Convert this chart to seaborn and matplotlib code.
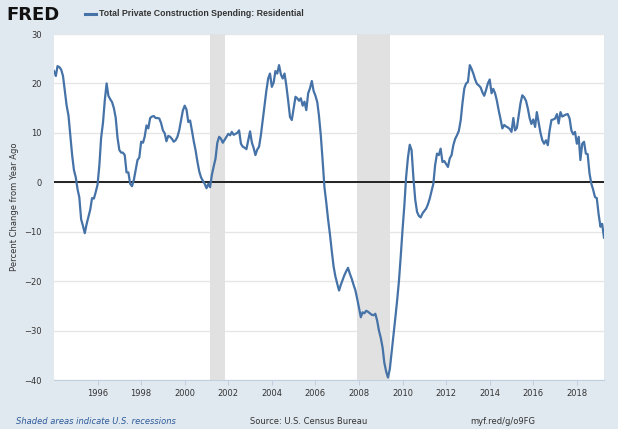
import pandas as pd
import numpy as np
import seaborn as sns
import matplotlib.pyplot as plt
import matplotlib.dates as mdates

# Percent change from year ago, monthly, Jan 1994 - Apr 2019
valores = [
    # 1994
    22.5, 21.5, 23.5, 23.3, 22.8, 21.5, 18.5, 15.5, 13.5, 9.5, 5.5, 2.5,
    # 1995
    1.0, -1.5, -3.0, -7.5, -8.8, -10.3, -8.5, -7.0, -5.5, -3.2, -3.3, -2.0,
    # 1996
    -0.5, 3.5, 9.0, 12.0, 16.5, 20.0, 17.5, 16.8, 16.2, 15.0, 13.0, 9.0,
    # 1997
    6.5, 6.0, 6.0, 5.5, 2.0, 2.0, -0.3, -0.8, 0.5, 2.5, 4.5, 5.0,
    # 1998
    8.2, 8.0, 9.2, 11.5, 10.9, 13.0, 13.3, 13.4, 13.0, 13.0, 12.9, 12.0,
    # 1999
    10.5, 9.9, 8.3, 9.4, 9.2, 8.8, 8.2, 8.5, 9.2, 10.5, 12.5, 14.5,
    # 2000
    15.5, 14.7, 12.2, 12.5, 10.5, 8.3, 6.5, 4.2, 2.2, 1.0, 0.3, -0.3,
    # 2001
    -1.2, -0.3, -1.0, 1.5, 3.2, 4.8, 8.0, 9.2, 8.8, 8.0, 8.6, 9.2,
    # 2002
    9.8, 9.5, 10.2, 9.6, 9.8, 10.0, 10.5, 7.8, 7.2, 7.0, 6.7, 8.5,
    # 2003
    10.3, 8.0, 7.0, 5.5, 6.6, 7.2, 9.5, 12.5, 15.5, 18.5, 21.0, 22.0,
    # 2004
    19.3, 20.2, 22.5, 22.0, 23.7, 21.8, 21.0, 22.0, 19.5, 16.5, 13.2, 12.6,
    # 2005
    15.0, 17.3, 17.0, 16.5, 17.0, 15.5, 16.3, 14.6, 18.0, 19.0, 20.5, 18.5,
    # 2006
    17.5, 16.2, 13.5, 9.5, 4.5, -1.0, -4.0, -7.5, -10.5, -13.8, -17.0, -19.0,
    # 2007
    -20.5, -21.9, -20.8, -19.8, -18.8, -18.0, -17.3, -18.5, -19.5, -20.7, -21.8, -23.5,
    # 2008
    -25.4, -27.3, -26.3, -26.5, -26.0, -26.2, -26.5, -26.8, -26.9, -26.6, -28.0, -30.0,
    # 2009
    -31.5, -33.5, -36.5, -38.3, -39.5, -37.8, -34.5, -31.0, -27.5, -24.0, -20.0, -15.0,
    # 2010
    -9.5, -4.5, 1.0, 5.0, 7.6, 6.5, 1.0, -3.5, -6.0, -6.8, -7.1, -6.3,
    # 2011
    -5.8, -5.3, -4.5, -3.3, -1.8, -0.3, 3.5, 5.8, 5.5, 6.8, 4.1, 4.3,
    # 2012
    3.7, 3.1, 4.8, 5.5, 7.5, 8.8, 9.5, 10.4, 12.5, 16.0, 19.0, 20.0,
    # 2013
    20.3, 23.7, 23.0, 22.0, 20.8, 19.9, 19.6, 19.2, 18.2, 17.5, 18.7, 20.0,
    # 2014
    20.8, 18.0, 18.9, 18.0, 16.5, 14.5, 12.8, 10.9, 11.6, 11.3, 11.1, 10.8,
    # 2015
    10.2, 13.0, 10.5, 11.0, 13.5, 16.0, 17.6, 17.2, 16.5, 15.0, 13.0, 11.8,
    # 2016
    12.7, 11.2, 14.2, 12.0, 10.0, 8.5, 7.8, 8.5, 7.5, 10.5, 12.6, 12.7,
    # 2017
    12.9, 13.8, 11.9, 14.2, 13.3, 13.5, 13.7, 13.8, 12.9, 10.5, 9.7, 10.2,
    # 2018
    7.8, 9.2, 4.5, 7.8, 8.2, 5.8, 5.7, 1.8, -0.3, -1.5, -3.0, -3.2,
    # 2019
    -6.5, -9.0, -8.4, -11.2,
]
fechas = pd.date_range('1994-01-01', periods=len(valores), freq='MS')

recesiones_inicio = ['2001-03-01', '2007-12-01']
recesiones_fin = ['2001-11-01', '2009-06-01']

titulo = 'Total Private Construction Spending: Residential'
etiqueta_y = 'Percent Change from Year Ago'
ticks_y = [-40, -30, -20, -10, 0, 10, 20, 30]
anios_ticks = list(range(1996, 2019, 2))

df = pd.DataFrame({'fecha': fechas, 'valor': valores})

fondo = '#e1e9f0'
azul = '#4572a7'
gris_texto = '#333333'

fig = plt.figure(figsize=(6.18, 4.29), dpi=100, facecolor=fondo)
ax = fig.add_axes([54 / 618, 1 - 380 / 429, 550 / 618, 346 / 429])
ax.set_facecolor('white')

# zonas de recesion
for ini, fin in zip(recesiones_inicio, recesiones_fin):
    ax.axvspan(pd.Timestamp(ini), pd.Timestamp(fin), color='#e1e1e1', lw=0, zorder=1)

ax.axhline(0, color='#222222', lw=1.4, zorder=2)
sns.lineplot(data=df, x='fecha', y='valor', color=azul, lw=1.6, ax=ax, zorder=3)

ax.set_xlim(fechas[0], fechas[-1])
ax.set_ylim(-40, 30)
ax.set_yticks(ticks_y)
ax.set_xticks([pd.Timestamp(f'{a}-01-01') for a in anios_ticks])
ax.xaxis.set_major_formatter(mdates.DateFormatter('%Y'))

ax.grid(axis='y', color='#e6e6e6', lw=1, zorder=0)
ax.grid(axis='x', visible=False)
ax.set_axisbelow(True)
for lado in ['top', 'right', 'left']:
    ax.spines[lado].set_visible(False)
ax.spines['bottom'].set_color('#c0d0e0')
ax.tick_params(axis='x', colors='#c0d0e0', labelcolor=gris_texto, labelsize=6, length=3.5, direction='out', pad=3)
ax.tick_params(axis='y', length=0, labelcolor=gris_texto, labelsize=6, pad=9)
ax.set_xlabel('')
ax.set_ylabel(etiqueta_y, fontsize=6, color=gris_texto, va='center')
ax.yaxis.set_label_coords(-39 / 550, 0.5)

# cabecera
fig.text(6 / 618, 1 - 15 / 429, 'FRED', fontsize=13, fontweight='bold', color='#111111', va='center', ha='left')
fig.add_artist(plt.Line2D([85 / 618, 96 / 618], [1 - 14 / 429, 1 - 14 / 429], color=azul, lw=2.2))
fig.text(99 / 618, 1 - 14 / 429, titulo, fontsize=6.3, fontweight='bold', color=gris_texto,
         family='Liberation Sans', va='center', ha='left')

# pie
fig.text(16 / 618, 1 - 421 / 429, 'Shaded areas indicate U.S. recessions', fontsize=6, style='italic', color='#2c5a9a', va='center')
fig.text(250 / 618, 1 - 421 / 429, 'Source: U.S. Census Bureau', fontsize=6, color=gris_texto, va='center')
fig.text(470 / 618, 1 - 421 / 429, 'myf.red/g/o9FG', fontsize=6, color=gris_texto, va='center')

plt.savefig('out.png', dpi=100, facecolor=fondo)
